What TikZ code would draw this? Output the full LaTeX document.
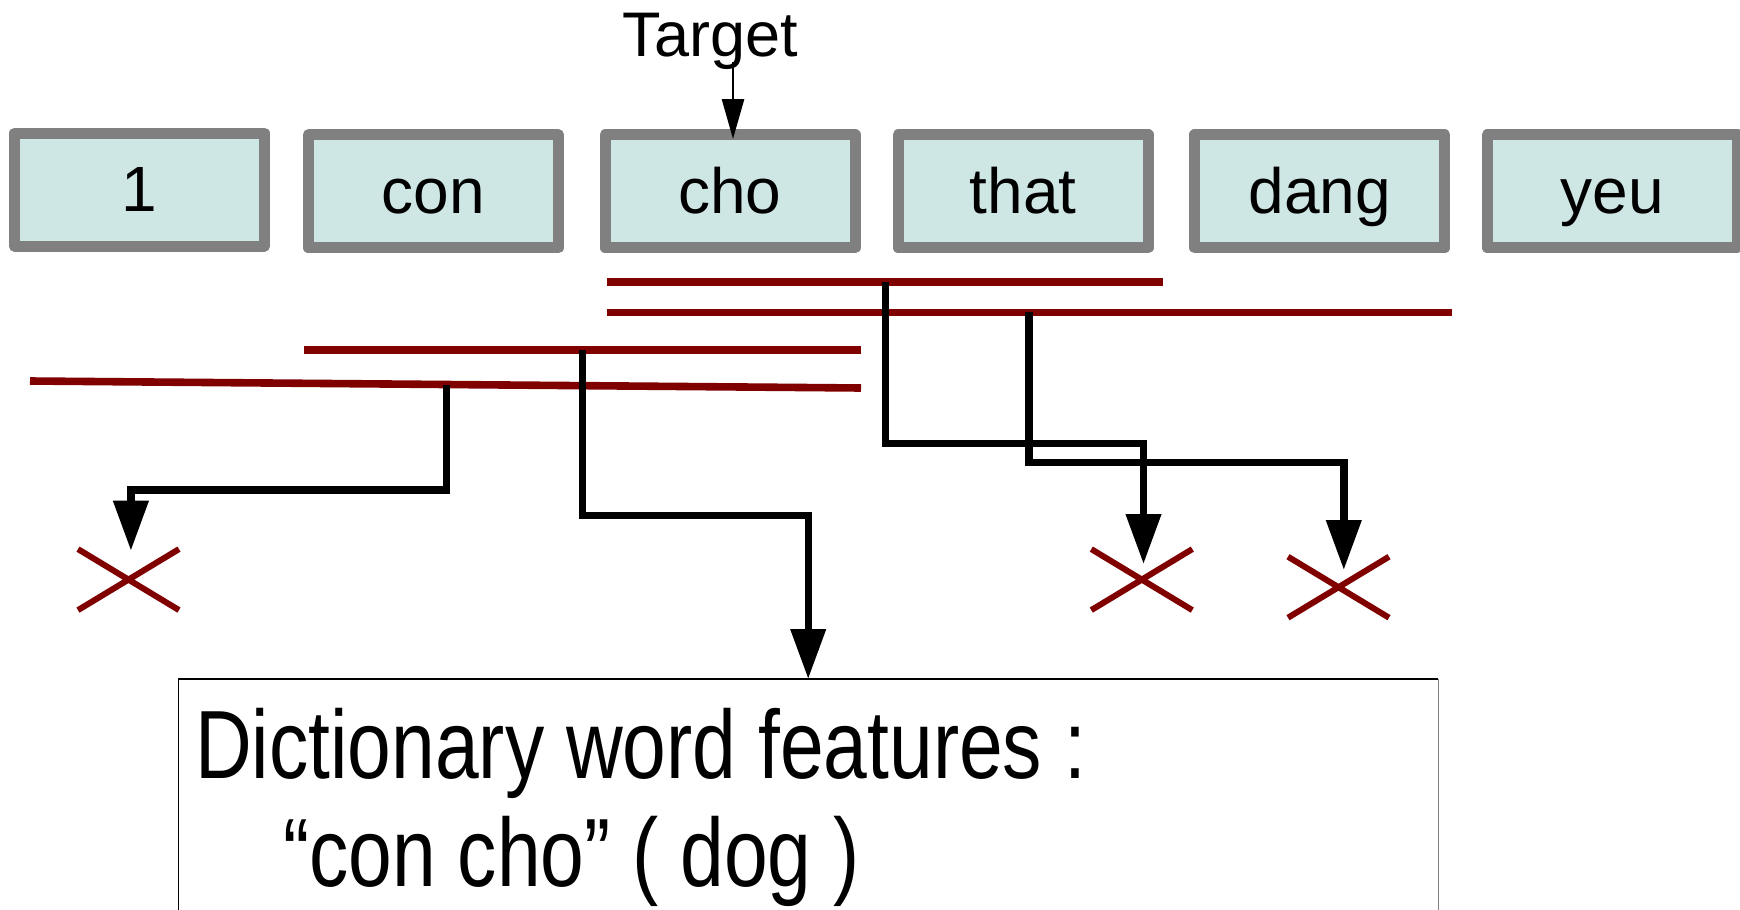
\documentclass[tikz,border=0pt]{standalone}
\usepackage{fontspec}
\setmainfont{Liberation Sans}
\newfontfamily\narrowsans[FakeStretch=0.81]{Liberation Sans}
\usetikzlibrary{arrows.meta,calc,shapes.misc}

\definecolor{boxgray}{RGB}{128,128,128}
\definecolor{boxfill}{RGB}{207,231,228}
\definecolor{barred}{RGB}{128,0,0}

\begin{document}
\begin{tikzpicture}[x=1pt,y=-1pt,
  wordbox/.style={draw=boxgray, fill=boxfill, line width=11pt, line join=round,
    minimum width=250pt, minimum height=113pt, inner sep=0pt,
    font=\fontsize{64}{70}\selectfont, text height=46pt, text depth=2.4pt},
  span/.style={draw=barred, line width=7.6pt},
  conn/.style={draw=black, line width=7.4pt, line join=miter,
    -{Triangle[width=34pt,length=50pt]}},
  xmark/.style={cross out, draw=barred, line width=6pt, inner sep=0pt,
    minimum width=95pt, minimum height=55pt},
  bigtext/.style={anchor=base west, inner sep=0pt,
    font=\narrowsans\fontsize{97}{100}\selectfont}
]
\useasboundingbox (0,0) rectangle (1740,910);

% word sequence
\node[wordbox] (w1)    at (139.5,189.5)  {1};
\node[wordbox] (con)   at (433.4,191.4)  {con};
\node[wordbox] (cho)   at (730,191.4)    {cho};
\node[wordbox] (that)  at (1023.2,191.4) {that};
\node[wordbox] (dang)  at (1319.7,191.4) {dang};
\node[wordbox] (yeu)   at (1612.2,191.4) {yeu};

% target marker
\node[anchor=base, inner sep=0pt, font=\fontsize{63}{70}\selectfont] (target) at (710.4,56.7) {Target};
\coordinate (ta) at (733,62);
\coordinate (tb) at (733,139);
\draw[line width=2.8pt, -{Triangle[width=22pt,length=40pt]}] (ta) -- (tb);

% candidate word spans
\coordinate (l1a) at (606.7,282);  \coordinate (l1b) at (1162.7,282);
\coordinate (l2a) at (606.7,312.4);  \coordinate (l2b) at (1451.7,312.4);
\coordinate (l3a) at (304,350);    \coordinate (l3b) at (861,350);
\coordinate (l4a) at (30,381);     \coordinate (l4b) at (861,388);
\draw[span] (l1a) -- (l1b);
\draw[span] (l2a) -- (l2b);
\draw[span] (l3a) -- (l3b);
\draw[span] (l4a) -- (l4b);

% rejected candidates
\node[xmark] (x1) at (128.5,579.6) {};
\node[xmark] (x2) at (1141.8,579.6) {};
\node[xmark] (x3) at (1338.5,587.2) {};

% dictionary feature box
\node[draw=none, minimum width=1259.7pt, minimum height=300pt, inner sep=0pt, anchor=north] (dict) at (808.2,679) {};
\draw[black, line width=1.3pt] (dict.south west) -- (dict.north west) -- (dict.north east);
\draw[boxgray, line width=1.5pt] (dict.north east) -- (dict.south east);
\node[bigtext] (dl1) at (195,778) {Dictionary word features :};
\node[bigtext] (dl2) at (283,886) {“con cho” ( dog )};

% connectors from spans
\coordinate (s1) at (885.2,282);
\coordinate (t1) at (1143.5,564);
\draw[conn] (s1) -- ++(0,161.5) -| (t1);

\coordinate (s2) at (1028.8,312.4);
\coordinate (t2) at (1343.8,570);
\draw[conn] (s2) -- ++(0,150.1) -| (t2);

\coordinate (s3) at (582.6,350);
\draw[conn] (s3) -- ++(0,165.5) -| (dict.north);

\coordinate (s4) at ($(l4a)!0.5009!(l4b)$);
\coordinate (t4) at (130.9,550.7);
\draw[conn] (s4) -- (s4 |- 0,490) -| (t4);
\end{tikzpicture}
\end{document}
